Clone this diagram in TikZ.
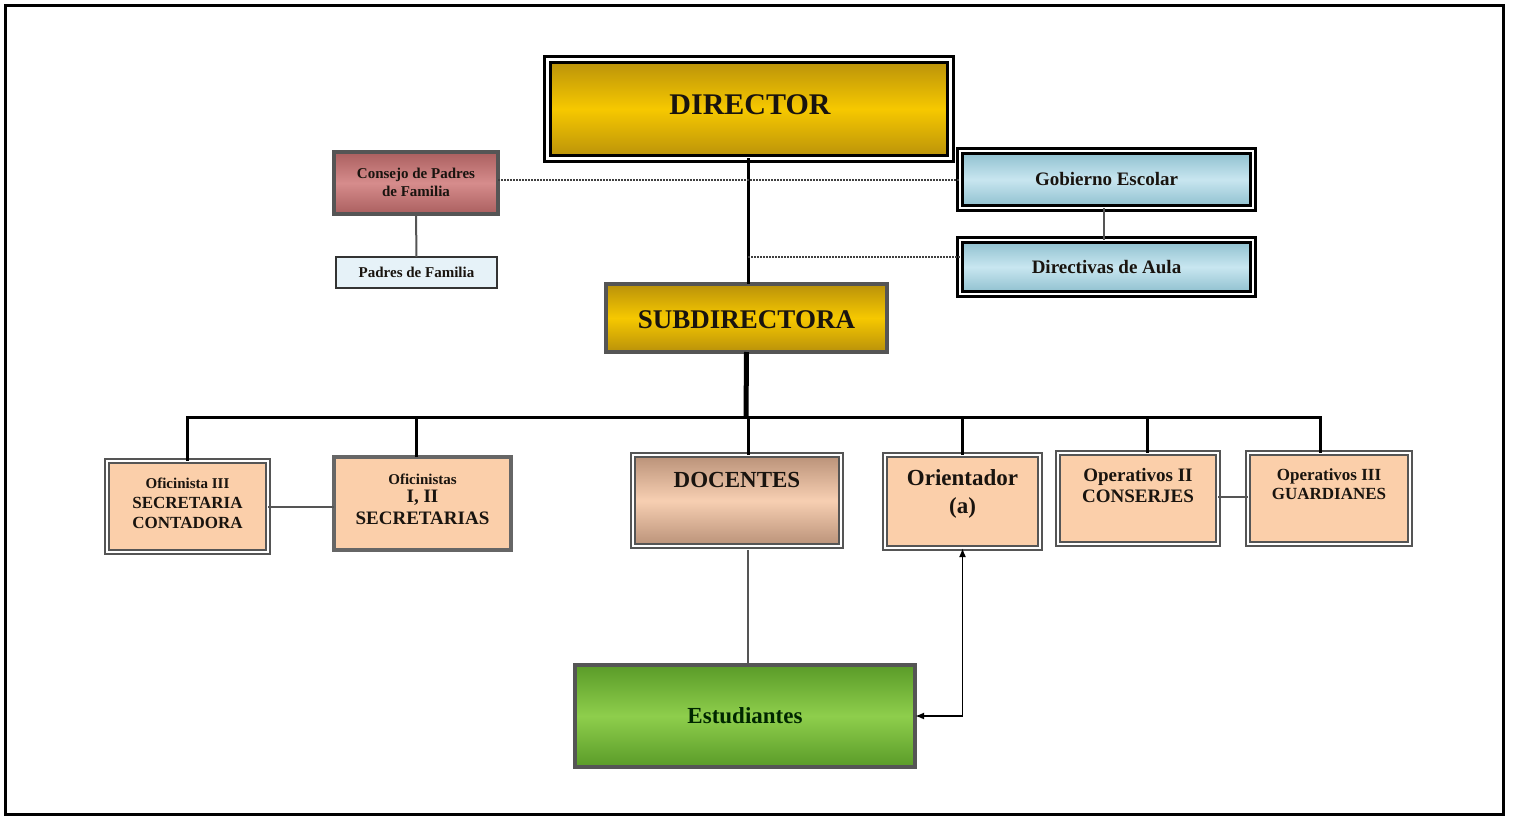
\documentclass[tikz,border=0pt]{standalone}
\usepackage{fontspec}
\setmainfont{Liberation Serif}
\usetikzlibrary{arrows.meta}
\definecolor{goldE}{RGB}{185,145,10}
\definecolor{goldM}{RGB}{246,200,0}
\definecolor{roseE}{RGB}{170,95,95}
\definecolor{roseM}{RGB}{214,140,140}
\definecolor{blueE}{RGB}{140,190,205}
\definecolor{blueM}{RGB}{200,230,240}
\definecolor{peach}{RGB}{251,207,170}
\definecolor{docE}{RGB}{185,145,120}
\definecolor{docM}{RGB}{247,207,178}
\definecolor{greenE}{RGB}{90,155,40}
\definecolor{greenM}{RGB}{142,206,76}
\definecolor{padfill}{RGB}{230,242,248}
\definecolor{bord}{RGB}{85,85,85}
\definecolor{ink}{RGB}{25,20,15}
\tikzset{
  fs/.style 2 args={font=\bfseries\fontsize{#1}{#2}\selectfont},
  goldshade/.style={top color=goldE, bottom color=goldE, middle color=goldM},
  dirbox/.style={goldshade, draw=black, line width=3pt, double=white, double distance=3pt},
  subbox/.style={goldshade, draw=bord, line width=3.5pt},
  conbox/.style={top color=roseE, bottom color=roseE, middle color=roseM, draw=bord, line width=4pt},
  padbox/.style={fill=padfill, draw=black!80, line width=1.5pt},
  bluebox/.style={top color=blueE, bottom color=blueE, middle color=blueM, draw=black, line width=2.5pt, double=white, double distance=2.5pt},
  peachbox/.style={fill=peach, draw=bord, line width=1.6pt, double=white, double distance=2.2pt},
  peachthick/.style={fill=peach, draw=bord!90, line width=4pt},
  docbox/.style={top color=docE, bottom color=docE, middle color=docM, draw=bord, line width=1.6pt, double=white, double distance=2.2pt},
  estbox/.style={top color=greenE, bottom color=greenE, middle color=greenM, draw=bord, line width=3.5pt},
  txt/.style={align=center, text=ink},
  main/.style={draw=black, line width=3pt},
  thin/.style={draw=bord, line width=2pt},
  dots/.style={draw=black!75, line width=2pt, dash pattern=on 1.5pt off 1.5pt},
}
\begin{document}
\begin{tikzpicture}[x=1pt,y=-1pt, every node/.style={inner sep=0pt, outer sep=0pt}]
\useasboundingbox (0,0) rectangle (1515,816);
\draw[line width=3pt, draw=black] (5.5,5.5) rectangle (1503.5,814.5);

% top level
\node[dirbox, minimum width=403pt, minimum height=98pt] (dir) at (748.5,109) {};
\node[txt, fs={30}{34}] (dirtext) at (750,105) {DIRECTOR};
\node[conbox, minimum width=164pt, minimum height=62pt] (con) at (416,183) {};
\node[txt, fs={15}{18}] (context) at (416,182) {Consejo de Padres\\de Familia};
\node[padbox, minimum width=161pt, minimum height=31pt, txt, fs={15}{18}] (pad) at (416.5,272.5) {Padres de Familia};
\node[bluebox, minimum width=293pt, minimum height=57pt, txt, fs={19}{22}] (gob) at (1106.5,179.5) {Gobierno Escolar};
\node[bluebox, minimum width=293pt, minimum height=54pt, txt, fs={19}{22}] (dau) at (1106.5,267) {Directivas de Aula};
\node[subbox, minimum width=281pt, minimum height=68pt] (sub) at (746.5,318) {};
\node[txt, fs={27}{30}] (subtext) at (746.5,320) {SUBDIRECTORA};

% second level
\node[peachbox, minimum width=161pt, minimum height=91pt] (of3) at (187.5,506.5) {};
\node[txt, fs={17}{20}] (of3text) at (187.5,503) {{\fontsize{15}{18}\selectfont Oficinista III}\\SECRETARIA\\CONTADORA};
\node[peachthick, minimum width=177pt, minimum height=93pt] (of12) at (422.5,503.5) {};
\node[txt, fs={19}{22}] (of12text) at (422.5,499) {{\fontsize{15}{18}\selectfont Oficinistas}\\[-4pt]I, II\\SECRETARIAS};
\node[docbox, minimum width=208pt, minimum height=91pt] (doc) at (737,500.5) {};
\node[txt, fs={23}{26}] (doctext) at (737,480) {DOCENTES};
\node[peachbox, minimum width=155pt, minimum height=93pt] (ori) at (962.5,501.5) {};
\node[txt, fs={23}{28}] (oritext) at (962.5,494) {Orientador\\(a)};
\node[peachbox, minimum width=160pt, minimum height=91pt] (op2) at (1138,498.5) {};
\node[txt, fs={19}{21}] (op2text) at (1138,485.5) {Operativos II\\CONSERJES};
\node[peachbox, minimum width=162pt, minimum height=91pt] (op3) at (1329,498.5) {};
\node[txt, fs={17}{19}] (op3text) at (1329,484.5) {Operativos III\\GUARDIANES};

\node[estbox, minimum width=340pt, minimum height=102pt, txt, fs={23}{26}] (est) at (745,716) {\color{black!85!green}Estudiantes};

% connectors
\draw[main] ([xshift=-0.5pt]dir.south) -- ([xshift=-0.5pt]dir.south |- sub.north);
\draw[dots] (con.east |- gob.west) -- (gob.west);
\coordinate (dj) at (748,257);
\draw[dots] (dj) -- (dj -| dau.west);
\draw[thin] (con.south) -- (pad.north);
\draw[thin] ([xshift=-2.5pt]gob.south) -- ([xshift=-2.5pt]dau.north);

\coordinate (bar) at (746,417);
\draw[draw=black, line width=5pt] (sub.south) -- (bar);
\coordinate (barL) at (187,417);
\coordinate (barR) at (1320,417);
\draw[main, line cap=rect] (barL) -- (barR);
\draw[main] (barL) -- (of3.north -| barL);
\draw[main] ([xshift=-6.5pt]of12.north |- bar) -- ([xshift=-6.5pt]of12.north);
\draw[main] ([xshift=11pt]doc.north |- bar) -- ([xshift=11pt]doc.north);
\draw[main] (ori.north |- bar) -- (ori.north);
\draw[main] ([xshift=9pt]op2.north |- bar) -- ([xshift=9pt]op2.north);
\draw[main] (barR) -- (op3.north -| barR);

\draw[thin] (of3.east |- 0,507) -- (of12.west |- 0,507);
\draw[thin] (op2.east |- 0,497) -- (op3.west |- 0,497);
\draw[thin] ([xshift=11pt,yshift=-4pt]doc.south) -- ([xshift=11pt]doc.south |- est.north);
\draw[draw=black, line width=1.8pt, {Latex[length=9pt,width=7pt]}-{Latex[length=9pt,width=7pt]}] (ori.south) |- (est.east);
\end{tikzpicture}
\end{document}
